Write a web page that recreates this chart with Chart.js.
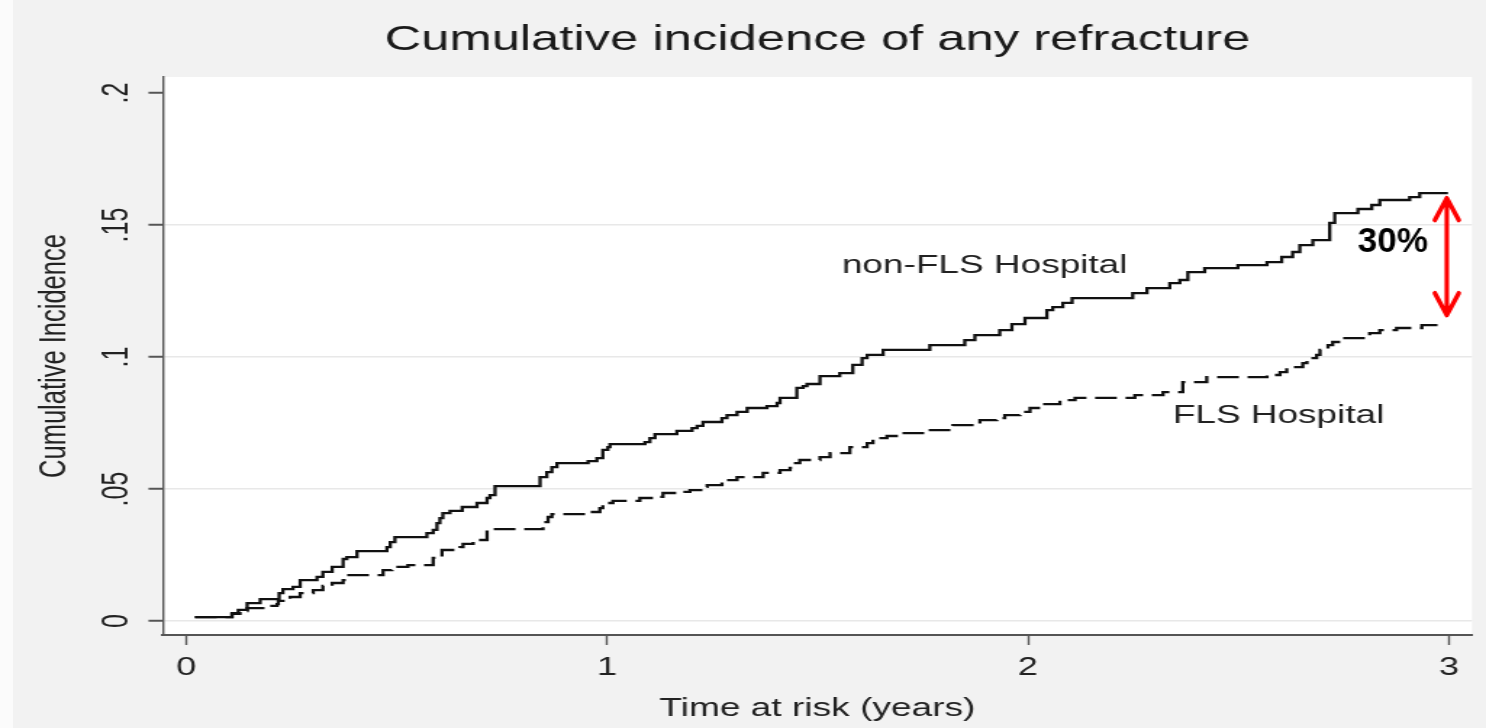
<!DOCTYPE html>
<html lang="en">
<head>
    <meta charset="UTF-8">
    <title>Cumulative incidence of any refracture</title>
    <script src="https://cdn.jsdelivr.net/npm/chart.js"></script>
    <style>
        html, body { margin: 0; padding: 0; overflow: hidden; }
        body { background: linear-gradient(to right, #fbfbfb 0 13px, #f2f2f2 13px); width: 1486px; height: 728px; }
        .stretch { width: 1025px; height: 728px; transform-origin: 0 0; }
    </style>
</head>
<body>
<div class="stretch" id="wrap"><canvas id="refractureChart"></canvas></div>
<script>
    // step times (years) and cumulative incidence, one pair of arrays per hospital group
    const nonFlsTime = [0.021, 0.109, 0.124, 0.145, 0.176, 0.221, 0.230, 0.254, 0.271, 0.311, 0.325, 0.347, 0.373, 0.382, 0.406, 0.477, 0.485, 0.496, 0.572, 0.587, 0.596, 0.603, 0.610, 0.627, 0.656, 0.691, 0.715, 0.722, 0.734, 0.841, 0.857, 0.869, 0.881, 0.955, 0.976, 0.990, 1.002, 1.007, 1.090, 1.102, 1.114, 1.166, 1.202, 1.214, 1.228, 1.273, 1.285, 1.309, 1.333, 1.380, 1.404, 1.411, 1.451, 1.466, 1.475, 1.506, 1.553, 1.584, 1.606, 1.618, 1.656, 1.767, 1.850, 1.874, 1.933, 1.962, 1.993, 2.045, 2.059, 2.083, 2.105, 2.249, 2.283, 2.337, 2.361, 2.380, 2.420, 2.499, 2.568, 2.603, 2.629, 2.646, 2.677, 2.717, 2.729, 2.784, 2.817, 2.836, 2.907, 2.931, 2.998];
    const nonFlsRisk = [0.0015, 0.0030, 0.0042, 0.0068, 0.0083, 0.0106, 0.0121, 0.0129, 0.0155, 0.0167, 0.0186, 0.0205, 0.0235, 0.0242, 0.0265, 0.0280, 0.0299, 0.0318, 0.0333, 0.0345, 0.0371, 0.0390, 0.0409, 0.0417, 0.0432, 0.0447, 0.0466, 0.0477, 0.0511, 0.0545, 0.0564, 0.0583, 0.0598, 0.0606, 0.0617, 0.0648, 0.0659, 0.0670, 0.0678, 0.0693, 0.0708, 0.0720, 0.0731, 0.0739, 0.0754, 0.0769, 0.0780, 0.0792, 0.0807, 0.0814, 0.0826, 0.0845, 0.0883, 0.0890, 0.0898, 0.0928, 0.0939, 0.0970, 0.0996, 0.1008, 0.1027, 0.1045, 0.1064, 0.1083, 0.1102, 0.1125, 0.1148, 0.1178, 0.1189, 0.1205, 0.1223, 0.1242, 0.1261, 0.1280, 0.1292, 0.1322, 0.1337, 0.1348, 0.1360, 0.1379, 0.1398, 0.1424, 0.1443, 0.1508, 0.1545, 0.1561, 0.1576, 0.1595, 0.1606, 0.1621, 0.1621];

    const flsTime = [0.021, 0.109, 0.128, 0.145, 0.188, 0.216, 0.219, 0.247, 0.271, 0.302, 0.325, 0.347, 0.373, 0.382, 0.468, 0.489, 0.527, 0.587, 0.608, 0.651, 0.658, 0.682, 0.715, 0.848, 0.860, 0.869, 0.960, 0.983, 0.990, 1.014, 1.078, 1.119, 1.133, 1.173, 1.197, 1.228, 1.238, 1.273, 1.309, 1.371, 1.411, 1.435, 1.442, 1.458, 1.506, 1.530, 1.577, 1.618, 1.632, 1.665, 1.696, 1.760, 1.822, 1.886, 1.926, 1.945, 1.981, 2.005, 2.040, 2.076, 2.112, 2.254, 2.321, 2.368, 2.425, 2.568, 2.599, 2.615, 2.653, 2.663, 2.686, 2.694, 2.713, 2.724, 2.748, 2.812, 2.836, 2.876, 2.936, 2.990];
    const flsRisk = [0.0015, 0.0027, 0.0038, 0.0049, 0.0057, 0.0064, 0.0076, 0.0091, 0.0106, 0.0117, 0.0133, 0.0144, 0.0155, 0.0174, 0.0193, 0.0205, 0.0212, 0.0239, 0.0269, 0.0280, 0.0292, 0.0307, 0.0348, 0.0375, 0.0394, 0.0405, 0.0413, 0.0428, 0.0447, 0.0455, 0.0466, 0.0470, 0.0485, 0.0489, 0.0496, 0.0508, 0.0515, 0.0534, 0.0545, 0.0561, 0.0572, 0.0580, 0.0598, 0.0610, 0.0621, 0.0636, 0.0659, 0.0674, 0.0693, 0.0701, 0.0712, 0.0723, 0.0742, 0.0761, 0.0769, 0.0780, 0.0792, 0.0807, 0.0822, 0.0837, 0.0845, 0.0856, 0.0867, 0.0905, 0.0924, 0.0932, 0.0943, 0.0962, 0.0977, 0.0996, 0.1008, 0.1027, 0.1045, 0.1057, 0.1072, 0.1091, 0.1102, 0.1110, 0.1121, 0.1121];

    const timeTicks = [0, 1, 2, 3];
    const timeTickLabels = ['0', '1', '2', '3'];
    const riskTicks = [0, 0.05, 0.1, 0.15, 0.2];
    const riskTickLabels = ['0', '.05', '.1', '.15', '.2'];

    const FONT = '"Liberation Sans", Arial, sans-serif';
    // the graph is laid out narrow and then widened, like the exported figure
    const STRETCH = 1486 / 1025;
    document.getElementById('wrap').style.transform = `scaleX(${STRETCH})`;

    Chart.defaults.font.family = FONT;
    Chart.defaults.color = '#222';

    const plotBackground = {
        id: 'plotBackground',
        beforeDraw(chart) {
            const { ctx, chartArea: a } = chart;
            ctx.save();
            ctx.fillStyle = '#ffffff';
            ctx.fillRect(a.left, a.top, a.right - a.left, a.bottom - a.top);
            ctx.restore();
        }
    };

    // title centred over the plot region rather than the whole canvas
    const plotTitle = {
        id: 'plotTitle',
        afterDraw(chart) {
            const { ctx, chartArea: a } = chart;
            ctx.save();
            ctx.font = `35px ${FONT}`;
            ctx.fillStyle = '#1a1a1a';
            ctx.textAlign = 'center';
            ctx.textBaseline = 'middle';
            ctx.fillText('Cumulative incidence of any refracture', (a.left + a.right) / 2, 40.5);
            ctx.restore();
        }
    };

    // rotated y tick labels, Stata style
    const yTickText = {
        id: 'yTickText',
        afterDraw(chart) {
            const { ctx } = chart;
            const y = chart.scales.y;
            ctx.save();
            ctx.font = `25px ${FONT}`;
            ctx.fillStyle = '#222';
            ctx.textAlign = 'center';
            ctx.textBaseline = 'middle';
            riskTicks.forEach((v, i) => {
                ctx.save();
                ctx.translate(y.right - 31, y.getPixelForValue(v));
                ctx.rotate(-Math.PI / 2);
                ctx.fillText(riskTickLabels[i], 0, 0);
                ctx.restore();
            });
            ctx.restore();
        }
    };

    // group names next to the curves
    const curveNames = {
        id: 'curveNames',
        afterDraw(chart) {
            const { ctx } = chart;
            const x = chart.scales.x, y = chart.scales.y;
            ctx.save();
            ctx.font = `25.5px ${FONT}`;
            ctx.fillStyle = '#222';
            ctx.textAlign = 'left';
            ctx.textBaseline = 'middle';
            ctx.fillText('non-FLS Hospital', x.getPixelForValue(1.558), y.getPixelForValue(0.1345));
            ctx.fillText('FLS Hospital', x.getPixelForValue(2.344), y.getPixelForValue(0.0777));
            ctx.restore();
        }
    };

    // red double arrow between the two curves at 3 years, drawn unstretched
    const gapArrow = {
        id: 'gapArrow',
        afterDraw(chart) {
            const { ctx } = chart;
            const xs = chart.scales.x, ys = chart.scales.y;
            const x = xs.getPixelForValue(timeTicks[3]) * STRETCH - 2;
            const top = ys.getPixelForValue(nonFlsRisk[nonFlsRisk.length - 1]) + 5;
            const bot = ys.getPixelForValue(flsRisk[flsRisk.length - 1]) - 10;
            ctx.save();
            ctx.scale(1 / STRETCH, 1);
            ctx.strokeStyle = '#ff0000';
            ctx.lineWidth = 4.5;
            ctx.lineCap = 'round';
            ctx.lineJoin = 'round';
            ctx.beginPath();
            ctx.moveTo(x, top + 2);
            ctx.lineTo(x, bot - 2);
            ctx.moveTo(x - 12, top + 22);
            ctx.lineTo(x, top);
            ctx.lineTo(x + 12, top + 22);
            ctx.moveTo(x - 12, bot - 22);
            ctx.lineTo(x, bot);
            ctx.lineTo(x + 12, bot - 22);
            ctx.stroke();
            ctx.font = `bold 35px ${FONT}`;
            ctx.fillStyle = '#000';
            ctx.textAlign = 'right';
            ctx.textBaseline = 'alphabetic';
            ctx.fillText('30%', x - 19, ys.getPixelForValue(0.1398));
            ctx.restore();
        }
    };

    const toPoints = (t, r) => t.map((v, i) => ({ x: v, y: r[i] }));

    new Chart(document.getElementById('refractureChart'), {
        type: 'line',
        data: {
            datasets: [
                {
                    label: 'non-FLS Hospital',
                    data: toPoints(nonFlsTime, nonFlsRisk),
                    borderColor: '#111',
                    borderWidth: 2.3,
                    stepped: true,
                    pointRadius: 0,
                    fill: false
                },
                {
                    label: 'FLS Hospital',
                    data: toPoints(flsTime, flsRisk),
                    borderColor: '#111',
                    borderWidth: 2.3,
                    borderDash: [15, 6],
                    stepped: true,
                    pointRadius: 0,
                    fill: false
                }
            ]
        },
        options: {
            responsive: true,
            maintainAspectRatio: false,
            animation: false,
            layout: { padding: { left: 0, right: 9.7, top: 77, bottom: 0 } },
            plugins: {
                legend: { display: false },
                tooltip: { enabled: false },
                title: { display: false }
            },
            scales: {
                x: {
                    type: 'linear',
                    min: -0.055,
                    max: 3.055,
                    afterBuildTicks: s => { s.ticks = timeTicks.map(v => ({ value: v })); },
                    afterFit: s => { s.height = 93; },
                    ticks: {
                        font: { size: 25 },
                        color: '#222',
                        padding: 8,
                        autoSkip: false,
                        maxRotation: 0,
                        callback: (v, i) => timeTickLabels[i]
                    },
                    grid: { drawOnChartArea: false, tickLength: 10, tickColor: '#555', tickWidth: 1.4 },
                    border: { color: '#555', width: 2 },
                    title: {
                        display: true,
                        text: 'Time at risk (years)',
                        color: '#222',
                        font: { size: 25.6 },
                        padding: { top: 0, bottom: 4 }
                    }
                },
                y: {
                    min: -0.0053,
                    max: 0.2061,
                    afterBuildTicks: s => { s.ticks = riskTicks.map(v => ({ value: v })); },
                    afterFit: s => { s.width = 112.4; },
                    ticks: { display: false },
                    grid: {
                        color: c => (c.tick && c.tick.value === 0.2) ? 'rgba(0,0,0,0)' : '#e8e8e8',
                        lineWidth: 1.5,
                        tickLength: 10,
                        tickColor: '#555',
                        tickWidth: 2
                    },
                    border: { color: '#555', width: 1.4 },
                    title: {
                        display: true,
                        text: 'Cumulative Incidence',
                        color: '#222',
                        font: { size: 25.5 },
                        padding: { top: 23, bottom: 0 }
                    }
                }
            }
        },
        plugins: [plotBackground, plotTitle, yTickText, curveNames, gapArrow]
    });
</script>
</body>
</html>
